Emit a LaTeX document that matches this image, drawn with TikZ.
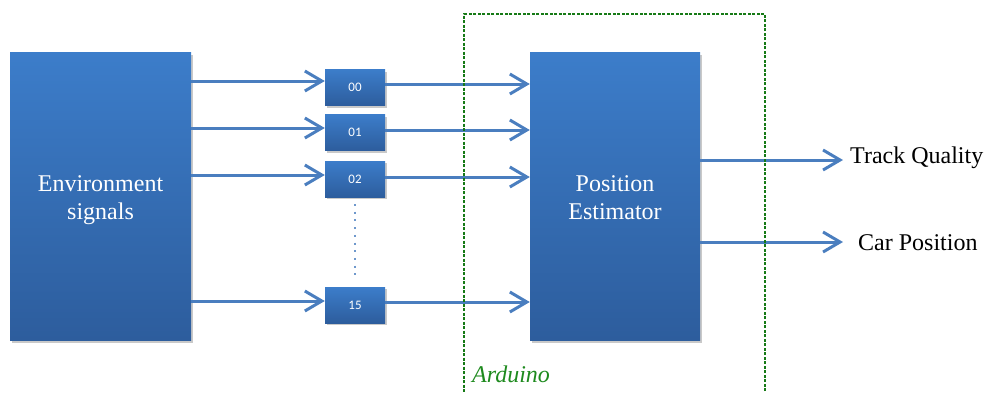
\documentclass[tikz,border=0pt]{standalone}
\usepackage{fontspec}
\setmainfont{Liberation Serif}
\newfontfamily\labelfont{Carlito}
\usetikzlibrary{arrows.meta,shadows,calc}
\definecolor{boxtop}{HTML}{3C7DCA}
\definecolor{boxbot}{HTML}{2D5D9D}
\definecolor{arrowblue}{HTML}{4A7EBF}
\definecolor{ardgreen}{HTML}{1E8A1E}
\definecolor{ardline}{HTML}{167A16}
% two-line caption, lowered slightly without changing its reported size
\newcommand{\boxcaption}[2]{\raisebox{-4pt}[\height][\depth]{\begin{tabular}{@{}c@{}}#1\\#2\end{tabular}}}
\tikzset{
  bigbox/.style={draw=none, top color=boxtop, bottom color=boxbot,
    drop shadow={shadow xshift=2pt, shadow yshift=-3pt, opacity=0.3, fill=black!70},
    text=white, font=\fontsize{24}{28}\selectfont, inner sep=0pt},
  chanbox/.style={draw=none, top color=boxtop, bottom color=boxbot,
    drop shadow={shadow xshift=1.5pt, shadow yshift=-2pt, opacity=0.3, fill=black!70},
    minimum width=60pt, minimum height=36pt, inner sep=0pt,
    text=white, font=\labelfont\fontsize{13}{15}\selectfont},
  arr/.style={draw=arrowblue, line width=3pt,
    -{Straight Barb[length=17pt, width=20pt]}},
  outlabel/.style={inner sep=0pt, anchor=west, font=\fontsize{24}{28}\selectfont},
}
\begin{document}
\begin{tikzpicture}[x=1pt, y=-1pt]
\useasboundingbox (0,0) rectangle (986,392);
\clip (0,0) rectangle (986,392);

% main blocks
\node[bigbox, minimum width=181pt, minimum height=288pt] (env) at (100.5,196) {\boxcaption{Environment}{signals}};
\node[bigbox, minimum width=170pt, minimum height=288pt] (pe) at (615,196) {\boxcaption{Position}{Estimator}};

% channel boxes
\node[chanbox] (b00) at (355,87.5) {00};
\node[chanbox] (b01) at (355,132.5) {01};
\node[chanbox] (b02) at (355,179) {02};
\node[chanbox] (b15) at (355,305) {15};

% dotted ellipsis between channels
\coordinate (dtop) at (355,204);
\coordinate (dbot) at (355,276);
\draw[arrowblue!80, line width=2pt, dash pattern=on 2pt off 5.7pt] (dtop) -- (dbot);

% signals into channels
\foreach \b/\d in {b00/6.5, b01/4.5, b02/4, b15/4} {
  \coordinate (in\b) at ([yshift=\d pt]\b.west);
  \draw[arr] (env.east |- in\b) -- (in\b);
}
% channels into the estimator
\foreach \b/\d in {b00/3.5, b01/2.5, b02/2, b15/3} {
  \coordinate (out\b) at ([yshift=\d pt]\b.east);
  \draw[arr] (out\b) -- (pe.west |- out\b);
}

% outputs
\node[outlabel] (tq) at (850,158) {Track Quality};
\node[outlabel] (cp) at (858,243) {Car Position};
\draw[arr] (pe.east |- {(0,160)}) -- ([xshift=-7pt, yshift=-2pt]tq.west);
\draw[arr] (pe.east |- {(0,242)}) -- ([xshift=-15pt, yshift=1pt]cp.west);

% Arduino boundary
\node[draw=ardline, line width=1.3pt, dash pattern=on 3pt off 1.5pt,
      minimum width=301pt, minimum height=400pt, inner sep=0pt] (ard) at (614.5,214) {};
\node[inner sep=0pt, anchor=base west, text=ardgreen,
      font=\itshape\fontsize{24}{28}\selectfont] (ardlabel) at (472,382) {Arduino};
\end{tikzpicture}
\end{document}
